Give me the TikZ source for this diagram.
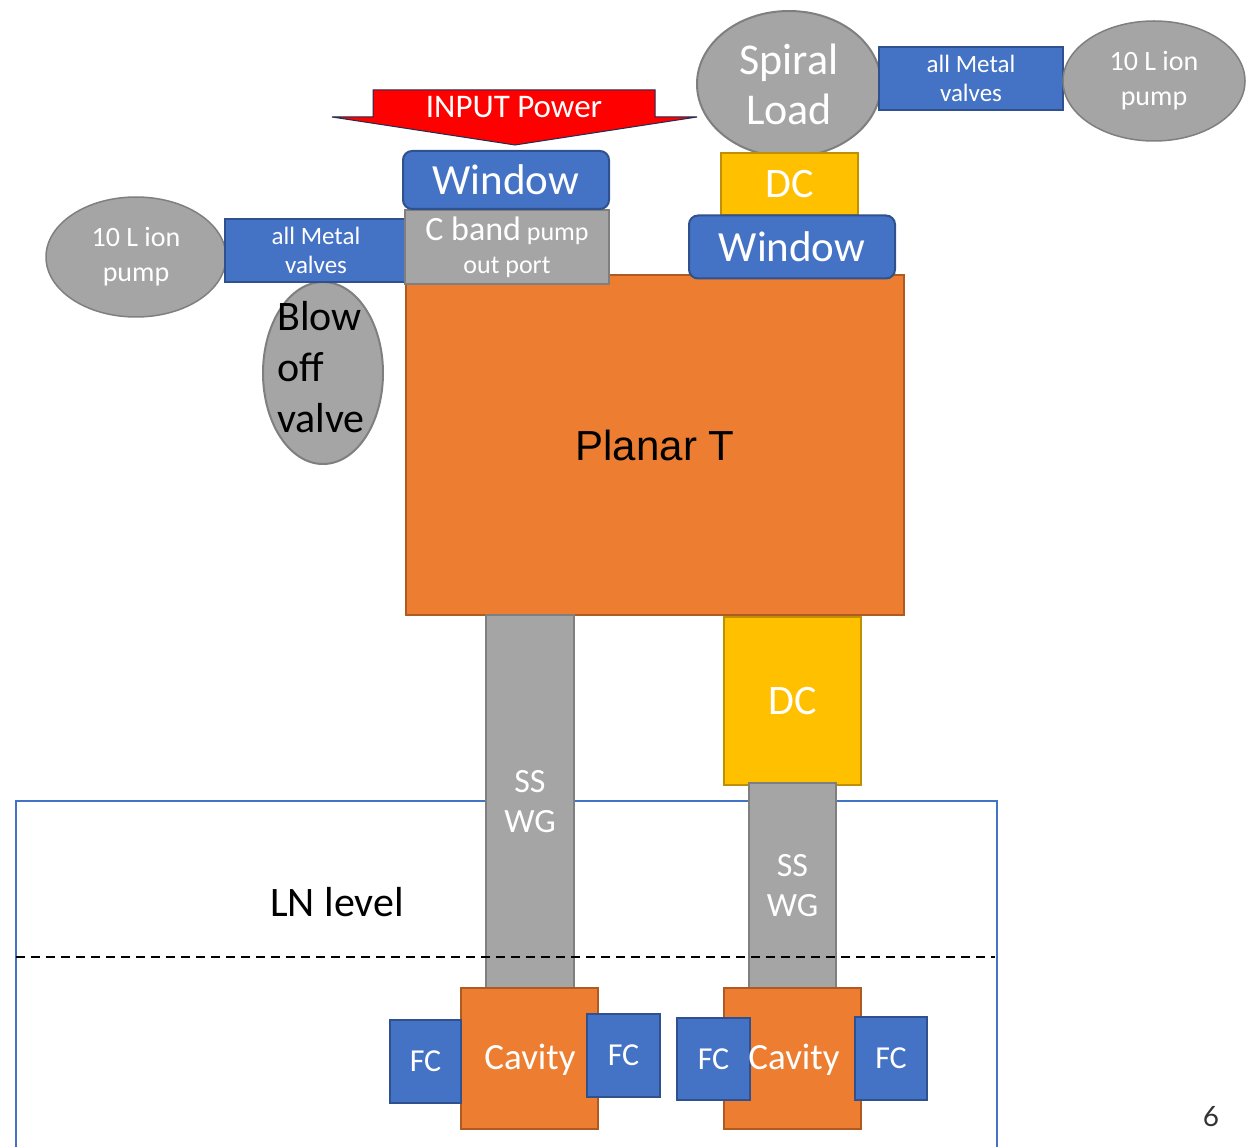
\documentclass[tikz,border=0pt]{standalone}
\usepackage{fontspec}
\setmainfont{Carlito}
\newfontfamily\arialfam{Liberation Sans}
\newfontfamily\latofam{Lato}
\usetikzlibrary{shapes.geometric}
\definecolor{cblue}{HTML}{4472C4}
\definecolor{cblueD}{HTML}{2F528F}
\definecolor{cgray}{HTML}{A5A5A5}
\definecolor{cgrayD}{HTML}{7F7F7F}
\definecolor{corange}{HTML}{ED7D31}
\definecolor{corangeD}{HTML}{AE5A21}
\definecolor{cyellow}{HTML}{FFC000}
\definecolor{cyellowD}{HTML}{BF9000}
\definecolor{cred}{HTML}{FF0000}
\definecolor{cnavy}{HTML}{1F2D50}
\newcommand\fsz[2]{\fontsize{#1}{#2}\selectfont}
\begin{document}
\begin{tikzpicture}[x=1pt,y=-1pt,
  blk/.style={draw, line width=2pt, inner sep=0pt, anchor=center, text=white, align=center},
  sz/.style 2 args={minimum width=#1pt, minimum height=#2pt},
  bluebox/.style={blk, fill=cblue, draw=cblueD},
  graybox/.style={blk, fill=cgray, draw=cgrayD},
  orangebox/.style={blk, fill=corange, draw=corangeD},
  yellowbox/.style={blk, fill=cyellow, draw=cyellowD},
  oval/.style={ellipse, draw=cgrayD, fill=cgray, line width=1.5pt, inner sep=0pt, text=white, align=center},
  winbox/.style={bluebox, rounded corners=9pt, font=\fsz{43}{50}},
  fcbox/.style={bluebox, font=\fsz{32}{38}},
  wgbox/.style={graybox, font=\fsz{34}{40}},
  valvebox/.style={bluebox, font=\fsz{25}{29}},
  pumpoval/.style={oval, font=\fsz{28}{35}}
]
\useasboundingbox (0,0) rectangle (1253,1147);

% cryostat outline (open at the bottom)
\draw[cblue, line width=2pt] (16,1147) -- (16,801) -- (997,801) -- (997,1147);

% planar tee and the two arms
\node[orangebox, sz={498}{340}, text=black, font=\arialfam\fsz{42}{50}] (planar) at (655,445) {Planar T};
\node[wgbox, sz={88}{374}] (wgL) at (530,802) {SS\\WG};
\node[yellowbox, sz={137}{168}, font=\fsz{42}{46}] (dcB) at (792.5,701) {DC};
\node[wgbox, sz={87}{206}] (wgR) at (792.5,886) {SS\\WG};

% LN level
\draw[black, line width=2pt, dash pattern=on 9pt off 6pt] (16,957) -- (995,957);
\node[text=black, font=\fsz{42}{48}] (lnlevel) at (337,902) {LN level};

% cavities with field couplers
\node[orangebox, sz={137}{141}] (cavL) at (529.5,1058.5) {};
\node[orangebox, sz={137}{141}] (cavR) at (792.5,1058.5) {};
\node[fcbox, sz={71}{83}] (fcLL) at (425.5,1061.5) {FC};
\node[fcbox, sz={73}{83}] (fcLR) at (623.5,1055.5) {FC};
\node[fcbox, sz={73}{82}] (fcRL) at (713.5,1059) {FC};
\node[fcbox, sz={72}{83}] (fcRR) at (891,1058.5) {FC};
\node[text=white, font=\fsz{37}{42}] (cavLt) at (530,1060) {Cavity};
\node[text=white, font=\fsz{37}{42}] (cavRt) at (794,1060) {Cavity};

% input side: pump, valves, blow-off, pump-out port, window
\node[pumpoval, minimum width=180pt, minimum height=120pt] (pumpL) at (136,257) {10 L ion\\pump};
\node[oval, minimum width=120pt, minimum height=182pt, line width=2pt] (blow) at (323,373) {};
\node[text=black, align=left, inner sep=0pt, font=\fsz{42}{51}] (blowtxt) at (321,367) {Blow\\off\\valve};
\node[valvebox, sz={182}{63}] (valvL) at (316,250.5) {all Metal\\valves};
\node[graybox, sz={204}{74}, font=\fsz{26}{33}] (cband) at (507,247) {{\fsz{34}{33}C band} pump\\out port};
\node[winbox, sz={206}{58}] (winL) at (506,180) {Window};

% input power arrow
\draw[fill=cred, draw=cnavy, line width=1pt]
  (373,90) -- (655,90) -- (655,117) -- (697,117) -- (515,145) -- (332,117) -- (373,117) -- cycle;
\node[text=white, font=\fsz{33}{38}] (input) at (514,107) {INPUT Power};

% load side: spiral load, directional coupler, window, valves, pump
\node[oval, minimum width=184pt, minimum height=146pt, line width=2pt, font=\fsz{44}{50}] (spiral) at (789,84) {Spiral\\Load};
\node[yellowbox, sz={137}{62}, font=\fsz{42}{46}] (dcT) at (789.5,184) {DC};
\node[winbox, sz={206}{63}] (winR) at (792,247) {Window};
\node[valvebox, sz={184}{63}] (valvR) at (971,78.5) {all Metal\\valves};
\node[pumpoval, minimum width=182pt, minimum height=120pt] (pumpR) at (1154,81) {10 L ion\\pump};

% page number
\node[text=black!80, font=\latofam\fsz{28}{34}] (pagenum) at (1211,1117) {6};
\end{tikzpicture}
\end{document}
